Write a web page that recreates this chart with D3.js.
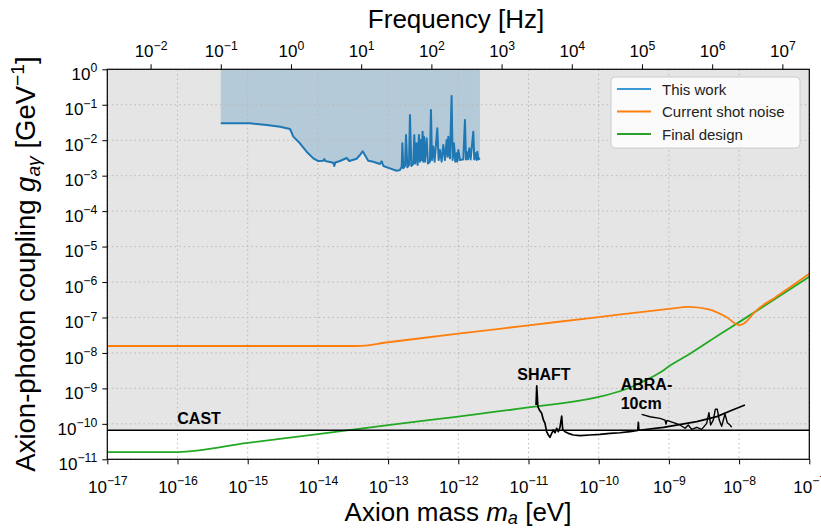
<!DOCTYPE html>
<html>
<head>
<meta charset="utf-8">
<script src="https://cdn.jsdelivr.net/npm/d3@7"></script>
<style>
  html, body { margin: 0; padding: 0; background: #ffffff; }
  svg { display: block; font-family: "Liberation Sans", Arial, Helvetica, sans-serif; }
</style>
</head>
<body>
<svg id="chart" width="821" height="530"></svg>
<script>
// ---------------- DATA ----------------
const HZ_PER_EV = 2.418e14;
const massTicks = [1e-17, 1e-16, 1e-15, 1e-14, 1e-13, 1e-12, 1e-11, 1e-10, 1e-9, 1e-8, 1e-7];
const freqTicks = [1e-2, 1e-1, 1e0, 1e1, 1e2, 1e3, 1e4, 1e5, 1e6, 1e7];
const couplingTicks = [1e-11, 1e-10, 1e-9, 1e-8, 1e-7, 1e-6, 1e-5, 1e-4, 1e-3, 1e-2, 1e-1, 1e0];
const castLimit = 6.6e-11;

// "This work" (frequency in Hz, coupling in GeV^-1)
const thisWorkFreq = [0.1, 0.26, 0.45, 0.70, 0.97, 1.08, 1.34, 1.67, 2.08, 2.45, 2.89, 2.98, 3.08, 4.01, 4.14, 4.28,
  4.99, 6.21, 6.77, 8.61, 9.61, 10.5, 11.3, 12.6, 14.9, 18.5, 19.6, 20.7, 25.7, 32.0,
  35.7, 37.8, 38.6, 39.8, 42.1, 43.5, 45.4, 48.0, 49.5, 51.8, 55.2, 57.1, 59.0, 61.6, 63.7, 66.5, 68.7,
  71.1, 72.6, 75.0, 76.7, 78.4, 81.0, 85.5, 89.3, 95.4, 98.6, 101.9, 106.4, 111.2, 121.4, 126.8, 132.5,
  140.0, 147.8, 156.2, 164.9, 170.5, 174.2, 184.0, 194.2, 200.7, 209.8, 219.2, 229.0, 234.0, 242.0, 255.5,
  285.0, 300.8, 311.0, 318.0, 332.0, 346.7, 362.2, 395.4, 408.4, 422.5, 441.6, 451.0, 465.6, 492.0];
const thisWorkG = [0.0299, 0.0299, 0.0269, 0.0241, 0.0207, 0.0126, 0.0082, 0.00475, 0.00308, 0.00259, 0.00264, 0.00295, 0.00259, 0.00232, 0.00187, 0.00236,
  0.00259, 0.00315, 0.00259, 0.0030, 0.00382, 0.00485, 0.00382, 0.00264, 0.00246, 0.00213, 0.00255, 0.00187, 0.00161, 0.00138,
  0.00144, 0.00179, 0.0082, 0.00161, 0.00187, 0.0140, 0.00172, 0.0020, 0.051, 0.00187, 0.00213, 0.0140, 0.00222, 0.0082, 0.0020, 0.0140, 0.00248,
  0.0101, 0.00276, 0.0174, 0.00248, 0.0126, 0.00248, 0.0113, 0.00222, 0.00248, 0.071, 0.00276, 0.0066, 0.00248, 0.0216, 0.00276, 0.0053,
  0.00248, 0.0073, 0.00276, 0.0101, 0.00343, 0.0126, 0.00308, 0.177, 0.00276, 0.0082, 0.00248, 0.00427, 0.00248, 0.0053, 0.00276,
  0.00288, 0.0372, 0.00288, 0.00475, 0.00288, 0.0059, 0.00288, 0.0174, 0.00288, 0.00427, 0.00276, 0.00475, 0.00288, 0.00308];

// "Current shot noise" (mass eV, coupling)
const shotNoiseMass = [1e-17, 3.6e-14, 1e-13, 1e-12, 1e-11, 1e-10, 1e-9, 1.9e-9, 3.7e-9, 6.5e-9, 1e-8, 1.26e-8, 1.6e-8, 2e-8, 3.16e-8, 5e-8, 1e-7];
const shotNoiseG = [1.57e-8, 1.57e-8, 2.0e-8, 3.5e-8, 6.0e-8, 1.03e-7, 1.75e-7, 2.0e-7, 1.7e-7, 1.05e-7, 6.1e-8, 7.6e-8, 1.3e-7, 1.95e-7, 3.5e-7, 6.6e-7, 1.7e-6];

// "Final design"
const finalDesignMass = [1e-17, 1e-16, 1e-15, 1e-14, 1e-13, 1e-12, 1e-11, 1e-10, 2e-10, 3.16e-10, 5e-10, 7.9e-10, 1e-9, 2e-9, 5e-9, 1e-8, 1e-7];
const finalDesignG = [1.6e-11, 1.6e-11, 2.9e-11, 5.1e-11, 9.2e-11, 1.6e-10, 2.9e-10, 5.75e-10, 8.3e-10, 1.17e-9, 1.82e-9, 3.0e-9, 4.2e-9, 9.5e-9, 3.1e-8, 7.4e-8, 1.4e-6];

// SHAFT
const shaftMass = [1.28e-11, 1.31e-11, 1.36e-11, 1.43e-11, 1.54e-11, 1.63e-11, 1.72e-11, 1.81e-11, 1.92e-11, 2.02e-11, 2.14e-11, 2.26e-11,
  2.39e-11, 2.52e-11, 2.66e-11, 2.81e-11, 2.97e-11, 3.07e-11, 3.31e-11, 3.69e-11, 4.35e-11, 5.42e-11, 7.5e-11, 1.04e-10, 1.45e-10,
  2.01e-10, 2.79e-10, 3.6e-10, 3.67e-10, 3.74e-10, 8.34e-10, 2.49e-9, 4.8e-9, 7.43e-9, 1.21e-8];
const shaftG = [3.4e-10, 1.17e-9, 3.05e-10, 2.46e-10, 1.98e-10, 1.29e-10, 1.03e-10, 6.0e-11, 4.84e-11, 4.17e-11, 5.4e-11, 6.7e-11,
  5.6e-11, 7.5e-11, 6.0e-11, 8.0e-11, 1.66e-10, 7.0e-11, 6.0e-11, 5.4e-11, 4.84e-11, 4.64e-11, 4.84e-11, 5.06e-11, 5.4e-11,
  5.6e-11, 6.0e-11, 6.5e-11, 1.1e-10, 6.6e-11, 7.97e-11, 1.15e-10, 1.6e-10, 2.3e-10, 3.4e-10];

// ABRA-10cm
const abraMass = [4.09e-10, 5.38e-10, 7.47e-10, 8.8e-10, 9.1e-10, 9.4e-10, 1.44e-9, 1.70e-9, 1.89e-9, 2.11e-9, 2.49e-9, 2.93e-9,
  3.45e-9, 3.72e-9, 3.93e-9, 4.29e-9, 4.58e-9, 4.89e-9, 5.22e-9, 5.64e-9, 6.29e-9, 6.79e-9, 7.41e-9, 7.83e-9];
const abraG = [1.85e-10, 1.59e-10, 1.43e-10, 1.28e-10, 9.9e-11, 1.25e-10, 9.3e-11, 7.5e-11, 9.3e-11, 7.0e-11, 8.0e-11, 7.0e-11,
  1.03e-10, 2.07e-10, 9.3e-11, 1.28e-10, 2.57e-10, 2.57e-10, 1.28e-10, 8.5e-11, 1.9e-10, 1.08e-10, 9.3e-11, 8.0e-11];

const legendLabels = ["This work", "Current shot noise", "Final design"];
const legendColors = ["#3a98d6", "#ff7f0e", "#2ca02c"];

// ---------------- DRAW ----------------
const svg = d3.select("#chart");
const L = 107.3, T = 69.3, W = 702, H = 390;
const g = svg.append("g").attr("transform", `translate(${L},${T})`);

const x = d3.scaleLog().domain([1e-17, 1e-7]).range([0, W]);
const xf = d3.scaleLog().domain([1e-17 * HZ_PER_EV, 1e-7 * HZ_PER_EV]).range([0, W]);
const y = d3.scaleLog().domain([1e-11, 1]).range([H, 0]);

// CAST excluded region (gray)
g.append("rect")
  .attr("x", 0).attr("y", y(1)).attr("width", W).attr("height", y(castLimit) - y(1))
  .attr("fill", "#e5e5e5");

// This work fill
const tw = thisWorkFreq.map((f, i) => ({ m: f / HZ_PER_EV, g: thisWorkG[i] }));
g.append("path").datum(tw)
  .attr("fill", "#1f77b4").attr("fill-opacity", 0.24)
  .attr("d", d3.area().x(d => x(d.m)).y0(y(1)).y1(d => y(d.g)));

// Grid
g.append("g").selectAll("line").data(massTicks).join("line")
  .attr("x1", d => x(d)).attr("x2", d => x(d)).attr("y1", 0).attr("y2", H)
  .attr("stroke", "#b8b8b8").attr("stroke-width", 1).attr("stroke-dasharray", "1.5,3");
g.append("g").selectAll("line").data(couplingTicks).join("line")
  .attr("y1", d => y(d)).attr("y2", d => y(d)).attr("x1", 0).attr("x2", W)
  .attr("stroke", "#b8b8b8").attr("stroke-width", 1).attr("stroke-dasharray", "1.5,3");

const smooth = d3.line().x(d => x(d.m)).y(d => y(d.g)).curve(d3.curveMonotoneX);
const lin = d3.line().x(d => x(d.m)).y(d => y(d.g));

// Final design
g.append("path").datum(finalDesignMass.map((m, i) => ({ m, g: finalDesignG[i] })))
  .attr("fill", "none").attr("stroke", "#22a822").attr("stroke-width", 1.8)
  .attr("d", smooth);
// Shot noise
g.append("path").datum(shotNoiseMass.map((m, i) => ({ m, g: shotNoiseG[i] })))
  .attr("fill", "none").attr("stroke", "#ff7f0e").attr("stroke-width", 1.8)
  .attr("d", smooth);

// CAST line
g.append("line").attr("x1", 0).attr("x2", W).attr("y1", y(castLimit)).attr("y2", y(castLimit))
  .attr("stroke", "#000").attr("stroke-width", 1.5);

// SHAFT & ABRA
g.append("path").datum(shaftMass.map((m, i) => ({ m, g: shaftG[i] })))
  .attr("fill", "none").attr("stroke", "#000").attr("stroke-width", 1.7).attr("stroke-linejoin", "round")
  .attr("d", lin);
g.append("path").datum(abraMass.map((m, i) => ({ m, g: abraG[i] })))
  .attr("fill", "none").attr("stroke", "#000").attr("stroke-width", 1.4).attr("stroke-linejoin", "round")
  .attr("d", lin);

// This work line
g.append("path").datum(tw)
  .attr("fill", "none").attr("stroke", "#1f77b4").attr("stroke-width", 2).attr("stroke-linejoin", "round")
  .attr("d", lin);

// Annotations
g.append("text").attr("x", 70).attr("y", 355).attr("font-size", 16).attr("font-weight", "bold").text("CAST");
g.append("text").attr("x", 410).attr("y", 311).attr("font-size", 16).attr("font-weight", "bold").text("SHAFT");
g.append("text").attr("x", 513.4).attr("y", 320.7).attr("font-size", 16).attr("font-weight", "bold").text("ABRA-");
g.append("text").attr("x", 513.4).attr("y", 340).attr("font-size", 16).attr("font-weight", "bold").text("10cm");

// Axes
function expLabel(sel, base, exp) {
  sel.text(null);
  sel.append("tspan").text(base);
  sel.append("tspan").attr("dy", "-0.62em").attr("font-size", "0.72em").text(exp);
}
function fmtExp(v) {
  const e = Math.round(Math.log10(v));
  return (e < 0 ? "\u2212" + (-e) : String(e));
}

const xAxis = g.append("g").attr("transform", `translate(0,${H})`)
  .call(d3.axisBottom(x).tickValues(massTicks).tickSize(5).tickPadding(15).tickFormat(() => ""));
xAxis.selectAll(".tick text").each(function (d) { expLabel(d3.select(this), "10", fmtExp(d)); })
  .attr("font-size", 17).attr("dy", "0.8em");

const xTop = g.append("g")
  .call(d3.axisTop(xf).tickValues(freqTicks).tickSize(5).tickPadding(7).tickFormat(() => ""));
xTop.selectAll(".tick text").each(function (d) { expLabel(d3.select(this), "10", fmtExp(d)); })
  .attr("font-size", 17);

const yAxis = g.append("g")
  .call(d3.axisLeft(y).tickValues(couplingTicks).tickSize(5).tickPadding(5).tickFormat(() => ""));
yAxis.selectAll(".tick text").each(function (d) { expLabel(d3.select(this), "10", fmtExp(d)); })
  .attr("font-size", 17).attr("dy", "0.6em");

[xAxis, xTop, yAxis].forEach(a => {
  a.select(".domain").remove();
  a.selectAll(".tick line").attr("stroke", "#000").attr("stroke-width", 1);
  a.selectAll("text").attr("fill", "#000").attr("font-family", "'Liberation Sans', Arial, sans-serif");
});

// Frame
g.append("rect").attr("x", 0).attr("y", 0).attr("width", W).attr("height", H)
  .attr("fill", "none").attr("stroke", "#000").attr("stroke-width", 1.2);

// Axis titles
svg.append("text").attr("x", 456).attr("y", 28).attr("text-anchor", "middle").attr("font-size", 26)
  .text("Frequency [Hz]");

const xt = svg.append("text").attr("x", 458).attr("y", 521).attr("text-anchor", "middle").attr("font-size", 26);
xt.append("tspan").text("Axion mass ");
xt.append("tspan").attr("font-style", "italic").text("m");
xt.append("tspan").attr("font-style", "italic").attr("font-size", "0.7em").attr("dy", "0.18em").text("a");
xt.append("tspan").attr("dy", "-0.126em").text(" [eV]");

const yt = svg.append("text").attr("transform", "translate(35,264) rotate(-90)").attr("text-anchor", "middle").attr("font-size", 27.5);
yt.append("tspan").text("Axion-photon coupling ");
yt.append("tspan").attr("font-style", "italic").text("g");
yt.append("tspan").attr("font-style", "italic").attr("font-size", "0.7em").attr("dy", "0.25em").text("a\u03B3");
yt.append("tspan").attr("dy", "-0.18em").text(" [GeV");
yt.append("tspan").attr("font-size", "0.7em").attr("dy", "-0.55em").text("\u22121");
yt.append("tspan").attr("dy", "0.39em").text("]");

// Legend
const lg = svg.append("g").attr("transform", "translate(611,77)");
lg.append("rect").attr("width", 189).attr("height", 71).attr("rx", 4)
  .attr("fill", "#ffffff").attr("fill-opacity", 0.85).attr("stroke", "#cccccc");
legendLabels.forEach((lab, i) => {
  const yy = 12 + i * 22.5;
  lg.append("line").attr("x1", 6).attr("x2", 40).attr("y1", yy).attr("y2", yy)
    .attr("stroke", legendColors[i]).attr("stroke-width", 2);
  lg.append("text").attr("x", 51).attr("y", yy + 5.5).attr("font-size", 15).attr("fill", "#222").text(lab);
});
</script>
</body>
</html>
